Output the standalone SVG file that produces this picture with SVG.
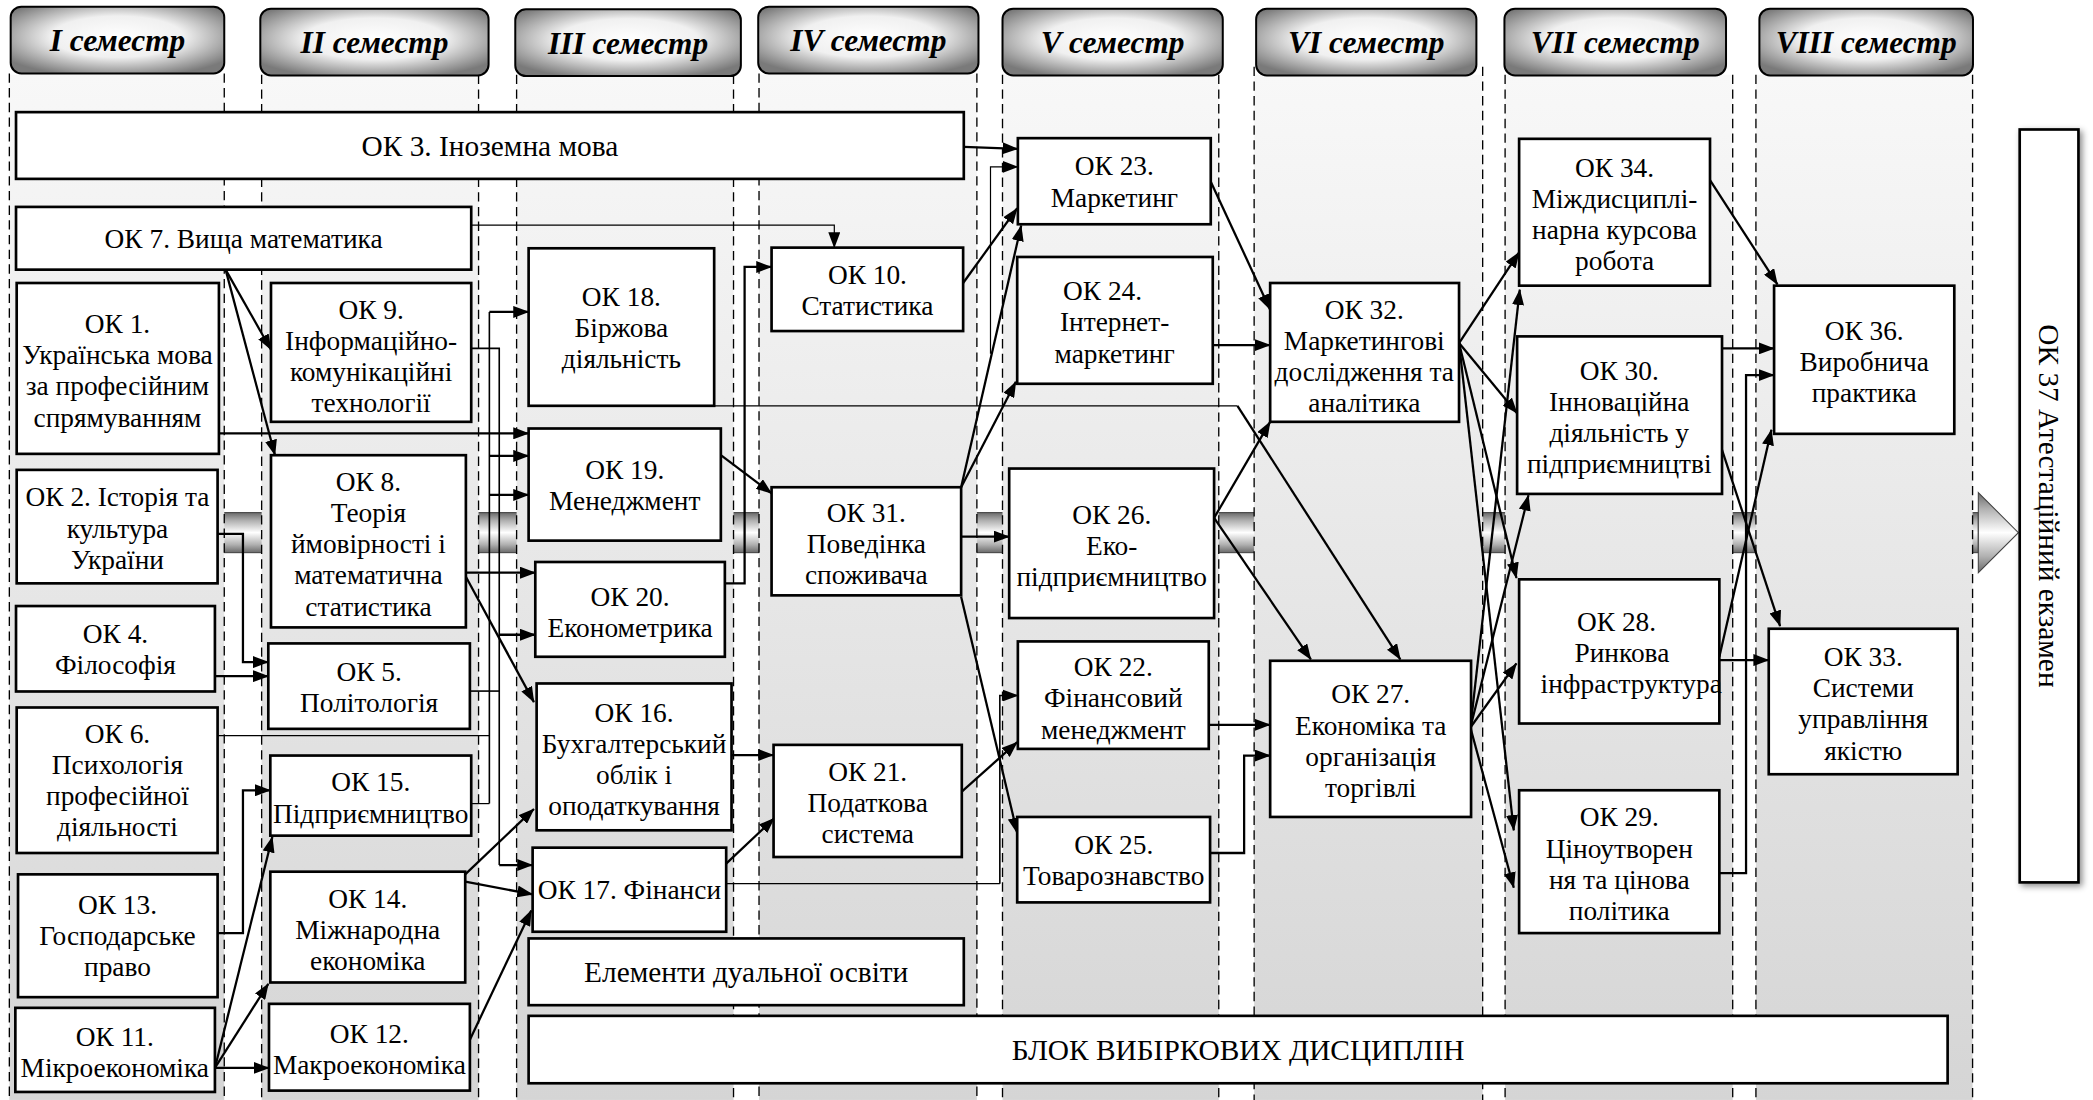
<svg xmlns="http://www.w3.org/2000/svg" width="2093" height="1100" viewBox="0 0 2093 1100">
<defs>
<linearGradient id="colg" x1="0" y1="0" x2="0" y2="1"><stop offset="0" stop-color="#f8f8f8"/><stop offset="1" stop-color="#d5d5d5"/></linearGradient>
<radialGradient id="hdg" cx="0.5" cy="0.45" r="0.62"><stop offset="0" stop-color="#ffffff"/><stop offset="0.5" stop-color="#f0f0f0"/><stop offset="1" stop-color="#7a7a7a"/></radialGradient>
<linearGradient id="bandg" x1="0" y1="0" x2="0" y2="1"><stop offset="0" stop-color="#6a6a6a"/><stop offset="0.2" stop-color="#b0b0b0"/><stop offset="0.5" stop-color="#ffffff"/><stop offset="0.8" stop-color="#b0b0b0"/><stop offset="1" stop-color="#6a6a6a"/></linearGradient>
<marker id="ah" markerUnits="userSpaceOnUse" markerWidth="12" markerHeight="9" refX="11.5" refY="4.5" orient="auto"><path d="M0,0 L12,4.5 L0,9 Z" fill="#000"/></marker>
<filter id="sh" x="-40%" y="-10%" width="180%" height="120%"><feDropShadow dx="2" dy="2" stdDeviation="2.5" flood-color="#000" flood-opacity="0.45"/></filter>
</defs>
<style>
.hd{fill:url(#hdg);stroke:#000;stroke-width:1.5}
.ht{font-family:"Liberation Serif","Times New Roman",serif;font-weight:bold;font-style:italic;font-size:23.5px;text-anchor:middle;fill:#000}
.col{fill:url(#colg)}
.dl{stroke:#000;stroke-width:1;stroke-dasharray:7 4;fill:none}
.bx{fill:#fff;stroke:#000;stroke-width:2}
.tx{font-family:"Liberation Serif","Times New Roman",serif;font-size:20.5px;text-anchor:middle;fill:#000}
.lg{font-size:22px}
.c{fill:none;stroke:#000;stroke-width:1.7}
.m{fill:none;stroke:#000;stroke-width:1.2}
.t{fill:none;stroke:#000;stroke-width:0.9}
.a{marker-end:url(#ah)}
.band{fill:url(#bandg);stroke:#444;stroke-width:0.8}
</style>
<rect x="0" y="0" width="2093" height="1100" fill="#fff"/>
<g transform="scale(1.3349)">
<g id="band">
<rect class="band" x="100" y="384" width="1382" height="30"/>
<path class="band" d="M1482,369 L1512,399 L1482,429 Z"/>
</g>
<g id="columns">
<rect class="col" x="7" y="56" width="161" height="768"/>
<rect class="col" x="196" y="56" width="162.5" height="768"/>
<rect class="col" x="387" y="56" width="162.5" height="768"/>
<rect class="col" x="568.6" y="56" width="163.2" height="768"/>
<rect class="col" x="751" y="56" width="162" height="768"/>
<rect class="col" x="939.5" y="56" width="171.2" height="768"/>
<rect class="col" x="1127.5" y="56" width="170.5" height="768"/>
<rect class="col" x="1315.4" y="56" width="162.3" height="768"/>
<path class="dl" d="M7,55V824M168,55V824M196,56V824M358.5,56V824M387,56V824M549.5,56V824M568.6,55V824M731.8,55V824M751,56V824M913,56V824M939.5,50V824M1110.7,50V824M1127.5,56V824M1298,56V824M1315.4,56V824M1477.7,56V824"/>
</g>
<g id="headers">
<rect class="hd" x="8" y="5" width="160" height="50" rx="8"/><text class="ht" x="88" y="38.5">I семестр</text>
<rect class="hd" x="195" y="6.5" width="171" height="50" rx="8"/><text class="ht" x="280.5" y="40">II семестр</text>
<rect class="hd" x="386" y="7" width="169" height="50" rx="8"/><text class="ht" x="470.5" y="40.5">III семестр</text>
<rect class="hd" x="568" y="5" width="165" height="50" rx="8"/><text class="ht" x="650.5" y="38.5">IV семестр</text>
<rect class="hd" x="751" y="6.5" width="165" height="50" rx="8"/><text class="ht" x="833.5" y="40">V семестр</text>
<rect class="hd" x="941" y="6.5" width="165" height="50" rx="8"/><text class="ht" x="1023.5" y="40">VI семестр</text>
<rect class="hd" x="1127" y="6.5" width="166" height="50" rx="8"/><text class="ht" x="1210" y="40">VII семестр</text>
<rect class="hd" x="1318" y="6.5" width="160" height="50" rx="8"/><text class="ht" x="1398" y="40">VIII семестр</text>
</g>
<g id="connectors">
<path class="c a" d="M722,110 L762.5,111.5"/>
<path class="t a" d="M742,265 L742,125 L762.5,125"/>
<path class="c a" d="M721.5,212 L762,156"/>
<path class="c a" d="M720,365 L765,169"/>
<path class="c a" d="M720,365 L761,286"/>
<path class="t a" d="M353,168.6 L625,168.6 L625,185.5"/>
<path class="c a" d="M169,202 L203,262"/>
<path class="c a" d="M169,202 L206,341"/>
<path class="c a" d="M164,324.6 L396,324.6"/>
<path class="c a" d="M163,400 L182,400 L182,496 L201,496"/>
<path class="c a" d="M161,506.5 L201,506.5"/>
<path class="t" d="M163,551 L366.6,551"/>
<path class="t" d="M353,602 L366.6,602"/>
<path class="m" d="M366.6,602 L366.6,233.7"/>
<path class="c a" d="M366.6,233.7 L396,233.7"/>
<path class="c a" d="M366.6,341.5 L396,341.5"/>
<path class="c a" d="M366.6,370.8 L396,370.8"/>
<path class="m" d="M353,261 L374,261 L374,648"/>
<path class="c a" d="M374,648 L399,648"/>
<path class="c a" d="M374,475.5 L401,475.5"/>
<path class="m" d="M352,517.7 L374,517.7"/>
<path class="c a" d="M349,429 L401,429"/>
<path class="c a" d="M349,432 L400,526"/>
<path class="c a" d="M348.5,655 L400,606"/>
<path class="c a" d="M348.5,660.5 L399,670"/>
<path class="c a" d="M350.5,782 L398,682"/>
<path class="c a" d="M163,699 L182,699 L182,592 L202.5,592"/>
<path class="c a" d="M161,800 L204,627"/>
<path class="c a" d="M161,800 L201,737"/>
<path class="c a" d="M161,800 L201.5,800"/>
<path class="c a" d="M548,565.6 L579.5,565.6"/>
<path class="c a" d="M544,647 L580,613"/>
<path class="t" d="M544,662 L749,662"/>
<path class="m a" d="M749,662 L749,521 L762.5,521"/>
<path class="c a" d="M543,437 L557.8,437 L557.8,200 L578,200"/>
<path class="c a" d="M540,341 L578,369.5"/>
<path class="c a" d="M720,402 L756,402"/>
<path class="c a" d="M720,447 L762,624"/>
<path class="c a" d="M720.5,593 L762,556"/>
<path class="c a" d="M906.5,135 L951.5,232"/>
<path class="c a" d="M908.5,258.5 L951.5,258.5"/>
<path class="c a" d="M909.5,388 L951.5,316"/>
<path class="c a" d="M909.5,388 L982,494"/>
<path class="c a" d="M905.5,543 L951.5,543"/>
<path class="c a" d="M906.5,639 L932,639 L932,566 L951.5,566"/>
<path class="t" d="M535,304 L927,304"/>
<path class="c a" d="M927,304 L1049,494"/>
<path class="c a" d="M1093,257 L1138,189"/>
<path class="c a" d="M1093,257 L1136.5,309.6"/>
<path class="c a" d="M1093,257 L1136,433"/>
<path class="c a" d="M1093,257 L1134,622"/>
<path class="c a" d="M1101.5,545 L1138.5,217"/>
<path class="c a" d="M1101.5,545 L1145,371"/>
<path class="c a" d="M1101.5,545 L1136,497"/>
<path class="c a" d="M1101.5,545 L1134,665"/>
<path class="c a" d="M1281,135 L1331.5,213"/>
<path class="c a" d="M1290,261 L1329,261"/>
<path class="c a" d="M1288,654 L1308,654 L1308,281 L1329,281"/>
<path class="c a" d="M1288,492 L1327,322"/>
<path class="c a" d="M1288,494.5 L1325,494.5"/>
<path class="c a" d="M1290,337 L1333.5,469"/>
</g>
<g id="ok3"><rect class="bx" x="12" y="84" width="710" height="50"/><text class="tx lg" x="367" y="116.5">ОК 3. Іноземна мова</text></g>
<g id="ok7"><rect class="bx" x="12" y="155" width="341" height="47"/><text class="tx" x="182.5" y="185.5">ОК 7. Вища математика</text></g>
<g id="ok1"><rect class="bx" x="12.5" y="212" width="151.5" height="128"/><text class="tx"><tspan x="88" y="249.5">ОК 1.</tspan><tspan x="88" y="272.9">Українська мова</tspan><tspan x="88" y="296.2">за професійним</tspan><tspan x="88" y="319.5">спрямуванням</tspan></text></g>
<g id="ok2"><rect class="bx" x="12.5" y="352" width="150.5" height="85"/><text class="tx"><tspan x="88" y="379.4">ОК 2. Історія та</tspan><tspan x="88" y="402.7">культура</tspan><tspan x="88" y="426">України</tspan></text></g>
<g id="ok4"><rect class="bx" x="12" y="454" width="149" height="64"/><text class="tx"><tspan x="86.5" y="481.8">ОК 4.</tspan><tspan x="86.5" y="505.1">Філософія</tspan></text></g>
<g id="ok6"><rect class="bx" x="12.5" y="530" width="150.5" height="109"/><text class="tx"><tspan x="88" y="556.6">ОК 6.</tspan><tspan x="88" y="579.9">Психологія</tspan><tspan x="88" y="603.2">професійної</tspan><tspan x="88" y="626.5">діяльності</tspan></text></g>
<g id="ok13"><rect class="bx" x="13.5" y="655" width="149.5" height="92"/><text class="tx"><tspan x="88" y="684.7">ОК 13.</tspan><tspan x="88" y="708">Господарське</tspan><tspan x="88" y="731.3">право</tspan></text></g>
<g id="ok11"><rect class="bx" x="11.5" y="755" width="149.5" height="63"/><text class="tx"><tspan x="86" y="783.6">ОК 11.</tspan><tspan x="86" y="806.9">Мікроекономіка</tspan></text></g>
<g id="ok9"><rect class="bx" x="203" y="212" width="150" height="104"/><text class="tx"><tspan x="278" y="239">ОК 9.</tspan><tspan x="278" y="262.4">Інформаційно-</tspan><tspan x="278" y="285.7">комунікаційні</tspan><tspan x="278" y="309">технології</tspan></text></g>
<g id="ok8"><rect class="bx" x="203" y="341" width="146" height="129"/><text class="tx"><tspan x="276" y="367.9">ОК 8.</tspan><tspan x="276" y="391.2">Теорія</tspan><tspan x="276" y="414.5">ймовірності і</tspan><tspan x="276" y="437.8">математична</tspan><tspan x="276" y="461.1">статистика</tspan></text></g>
<g id="ok5"><rect class="bx" x="201" y="482" width="151" height="64"/><text class="tx"><tspan x="276.5" y="509.8">ОК 5.</tspan><tspan x="276.5" y="533.1">Політологія</tspan></text></g>
<g id="ok15"><rect class="bx" x="202.5" y="566" width="150.5" height="60"/><text class="tx"><tspan x="277.7" y="592.9">ОК 15.</tspan><tspan x="277.7" y="616.2">Підприємництво</tspan></text></g>
<g id="ok14"><rect class="bx" x="202.5" y="653" width="146" height="83"/><text class="tx"><tspan x="275.5" y="680.2">ОК 14.</tspan><tspan x="275.5" y="703.5">Міжнародна</tspan><tspan x="275.5" y="726.8">економіка</tspan></text></g>
<g id="ok12"><rect class="bx" x="201.5" y="752" width="150.5" height="65"/><text class="tx"><tspan x="276.7" y="781.4">ОК 12.</tspan><tspan x="276.7" y="804.7">Макроекономіка</tspan></text></g>
<g id="ok18"><rect class="bx" x="396" y="186" width="139" height="118"/><text class="tx"><tspan x="465.5" y="229.4">ОК 18.</tspan><tspan x="465.5" y="252.7">Біржова</tspan><tspan x="465.5" y="276">діяльність</tspan></text></g>
<g id="ok19"><rect class="bx" x="396" y="321" width="144" height="84"/><text class="tx"><tspan x="468" y="358.9">ОК 19.</tspan><tspan x="468" y="382.2">Менеджмент</tspan></text></g>
<g id="ok20"><rect class="bx" x="401" y="421" width="142" height="71"/><text class="tx"><tspan x="472" y="453.9">ОК 20.</tspan><tspan x="472" y="477.2">Економетрика</tspan></text></g>
<g id="ok16"><rect class="bx" x="402" y="512" width="146" height="110"/><text class="tx"><tspan x="475" y="540.6">ОК 16.</tspan><tspan x="475" y="563.9">Бухгалтерський</tspan><tspan x="475" y="587.2">облік і</tspan><tspan x="475" y="610.5">оподаткування</tspan></text></g>
<g id="ok17"><rect class="bx" x="399" y="635" width="145" height="63"/><text class="tx" x="471.5" y="673.5">ОК 17. Фінанси</text></g>
<g id="dual"><rect class="bx" x="396" y="703" width="326" height="50"/><text class="tx lg" x="559" y="735.5">Елементи дуальної освіти</text></g>
<g id="block"><rect class="bx" x="396" y="761" width="1063" height="50.5"/><text class="tx lg" x="927.5" y="793.8">БЛОК ВИБІРКОВИХ ДИСЦИПЛІН</text></g>
<g id="ok10"><rect class="bx" x="578" y="185.5" width="143.5" height="62.5"/><text class="tx"><tspan x="649.8" y="212.4">ОК 10.</tspan><tspan x="649.8" y="235.7">Статистика</tspan></text></g>
<g id="ok31"><rect class="bx" x="578" y="365" width="142" height="81"/><text class="tx"><tspan x="649" y="391.2">ОК 31.</tspan><tspan x="649" y="414.5">Поведінка</tspan><tspan x="649" y="437.8">споживача</tspan></text></g>
<g id="ok21"><rect class="bx" x="579.5" y="558" width="141" height="84"/><text class="tx"><tspan x="650" y="585.2">ОК 21.</tspan><tspan x="650" y="608.5">Податкова</tspan><tspan x="650" y="631.8">система</tspan></text></g>
<g id="ok23"><rect class="bx" x="762.5" y="103.5" width="144.5" height="64.5"/><text class="tx"><tspan x="834.8" y="131.4">ОК 23.</tspan><tspan x="834.8" y="154.7">Маркетинг</tspan></text></g>
<g id="ok24"><rect class="bx" x="762" y="192.5" width="146.5" height="95"/><text class="tx"><tspan x="826" y="225">ОК 24.</tspan><tspan x="835" y="248.3">Інтернет-</tspan><tspan x="835" y="271.6">маркетинг</tspan></text></g>
<g id="ok26"><rect class="bx" x="756" y="351" width="153.5" height="112"/><text class="tx"><tspan x="832.8" y="392.7">ОК 26.</tspan><tspan x="832.8" y="416">Еко-</tspan><tspan x="832.8" y="439.3">підприємництво</tspan></text></g>
<g id="ok22"><rect class="bx" x="762.5" y="480.5" width="143" height="80.5"/><text class="tx"><tspan x="834" y="506.7">ОК 22.</tspan><tspan x="834" y="530">Фінансовий</tspan><tspan x="834" y="553.3">менеджмент</tspan></text></g>
<g id="ok25"><rect class="bx" x="762" y="612" width="144.5" height="64"/><text class="tx"><tspan x="834.3" y="639.8">ОК 25.</tspan><tspan x="834.3" y="663.1">Товарознавство</tspan></text></g>
<g id="ok32"><rect class="bx" x="951.5" y="212" width="141.5" height="104"/><text class="tx"><tspan x="1022" y="239">ОК 32.</tspan><tspan x="1022" y="262.4">Маркетингові</tspan><tspan x="1022" y="285.7">дослідження та</tspan><tspan x="1022" y="309">аналітика</tspan></text></g>
<g id="ok27"><rect class="bx" x="951.5" y="495" width="150.5" height="117"/><text class="tx"><tspan x="1026.8" y="527">ОК 27.</tspan><tspan x="1026.8" y="550.4">Економіка та</tspan><tspan x="1026.8" y="573.7">організація</tspan><tspan x="1026.8" y="597">торгівлі</tspan></text></g>
<g id="ok34"><rect class="bx" x="1138" y="104" width="143" height="110"/><text class="tx"><tspan x="1209.5" y="132.5">ОК 34.</tspan><tspan x="1209.5" y="155.9">Міждисциплі-</tspan><tspan x="1209.5" y="179.2">нарна курсова</tspan><tspan x="1209.5" y="202.5">робота</tspan></text></g>
<g id="ok30"><rect class="bx" x="1136.5" y="252" width="153.5" height="118"/><text class="tx"><tspan x="1213" y="284.5">ОК 30.</tspan><tspan x="1213" y="307.9">Інноваційна</tspan><tspan x="1213" y="331.2">діяльність у</tspan><tspan x="1213" y="354.5">підприємництві</tspan></text></g>
<g id="ok28"><rect class="bx" x="1138" y="434" width="150" height="108"/><text class="tx"><tspan x="1211" y="472.7">ОК 28.</tspan><tspan x="1215" y="496">Ринкова</tspan><tspan x="1222" y="519.3">інфраструктура</tspan></text></g>
<g id="ok29"><rect class="bx" x="1138" y="592" width="150" height="107"/><text class="tx"><tspan x="1213" y="619">ОК 29.</tspan><tspan x="1213" y="642.4">Ціноутворен</tspan><tspan x="1213" y="665.7">ня та цінова</tspan><tspan x="1213" y="689">політика</tspan></text></g>
<g id="ok36"><rect class="bx" x="1329" y="214" width="135" height="111"/><text class="tx"><tspan x="1396.5" y="254.7">ОК 36.</tspan><tspan x="1396.5" y="278">Виробнича</tspan><tspan x="1396.5" y="301.3">практика</tspan></text></g>
<g id="ok33"><rect class="bx" x="1325" y="471" width="141.5" height="109"/><text class="tx"><tspan x="1395.8" y="499">ОК 33.</tspan><tspan x="1395.8" y="522.4">Системи</tspan><tspan x="1395.8" y="545.7">управління</tspan><tspan x="1395.8" y="569">якістю</tspan></text></g>
<g id="ok37"><rect class="bx" x="1513" y="97" width="44" height="564" filter="url(#sh)"/><text class="tx lg" transform="translate(1535,379) rotate(90)" x="0" y="7.5">ОК 37 Атестаційний екзамен</text></g>
</g>
</svg>
